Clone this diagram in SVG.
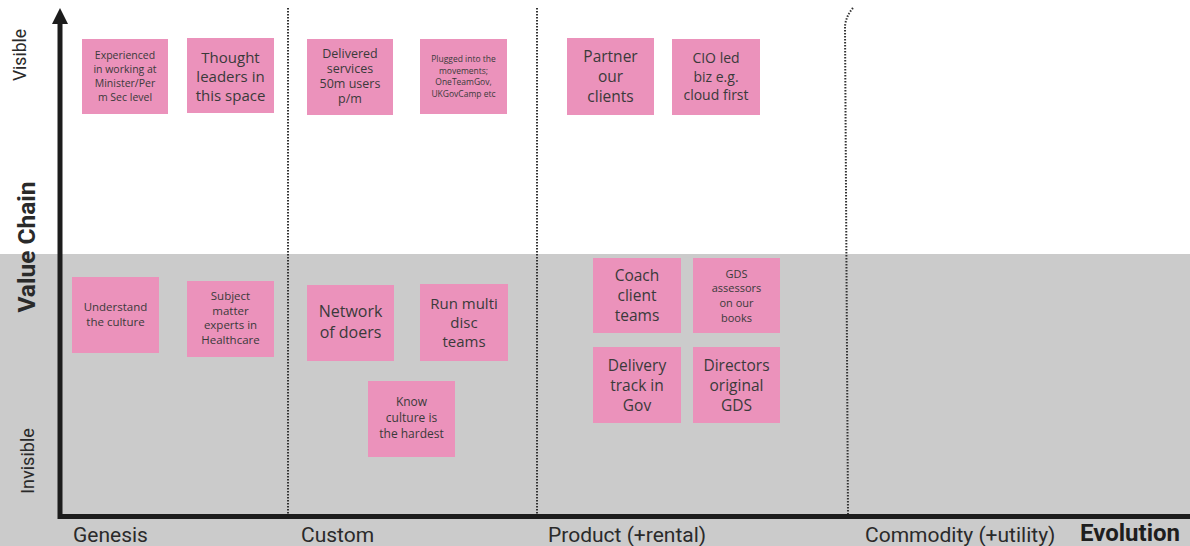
<svg xmlns="http://www.w3.org/2000/svg" width="1190" height="546" viewBox="0 0 1190 546">
  <style>
    .note { fill: #EB92BB; }
    .nt { font-family: "Open Sans", "Noto Sans", sans-serif; fill: #3a3a3a; text-anchor: middle; dominant-baseline: central; }
    .stage { font-family: Roboto, "Liberation Sans", sans-serif; font-size: 21px; fill: #2a2a2a; }
    .title { font-family: Roboto, "Liberation Sans", sans-serif; font-size: 24px; font-weight: bold; fill: #1e1e1e; }
    .side { font-family: Roboto, "Liberation Sans", sans-serif; fill: #2a2a2a; text-anchor: middle; dominant-baseline: central; }
    .divider { fill: none; stroke: #333; stroke-width: 2; stroke-dasharray: 1.5 1.5; }
    .axis { stroke: #1c1c1c; stroke-width: 5; fill: none; }
  </style>

  <!-- background: visible zone (white) and invisible zone (grey) -->
  <rect x="0" y="0" width="1190" height="546" fill="#ffffff"/>
  <rect x="0" y="254" width="1190" height="292" fill="#CBCBCB"/>

  <!-- stage dividers -->
  <g id="dividers">
    <line class="divider" x1="288" y1="8" x2="288" y2="515"/>
    <line class="divider" x1="537" y1="8" x2="537" y2="515"/>
    <path class="divider" d="M853 8 Q846 16 845 26 L848 515"/>
  </g>

  <!-- axes -->
  <g id="axes">
    <polyline class="axis" points="60,20 60,516.5 1190,516.5"/>
    <polygon points="60,8 52,24 68,24" fill="#1c1c1c"/>
  </g>

  <!-- axis labels -->
  <g id="labels">
    <text class="side" font-size="17.5" transform="translate(20,55) rotate(-90)">Visible</text>
    <text class="side" font-size="24.5" font-weight="bold" transform="translate(26,247) rotate(-90)">Value Chain</text>
    <text class="side" font-size="18" transform="translate(27,461) rotate(-90)">Invisible</text>
    <text class="stage" x="73" y="542">Genesis</text>
    <text class="stage" x="301" y="542">Custom</text>
    <text class="stage" x="548" y="542">Product (+rental)</text>
    <text class="stage" x="865" y="542">Commodity (+utility)</text>
    <text class="title" x="1080" y="541">Evolution</text>
  </g>

  <!-- sticky notes -->
  <g id="n1">
    <rect class="note" x="82" y="39" width="86" height="75"/>
    <text class="nt" font-size="10.5"><tspan x="125" y="55">Experienced</tspan><tspan x="125" y="69">in working at</tspan><tspan x="125" y="83">Minister/Per</tspan><tspan x="125" y="97">m Sec level</tspan></text>
  </g>
  <g id="n2">
    <rect class="note" x="187" y="38" width="87" height="75"/>
    <text class="nt" font-size="15"><tspan x="230.5" y="57">Thought</tspan><tspan x="230.5" y="76">leaders in</tspan><tspan x="230.5" y="95">this space</tspan></text>
  </g>
  <g id="n3">
    <rect class="note" x="307" y="39" width="86" height="76"/>
    <text class="nt" font-size="12.5"><tspan x="350" y="53">Delivered</tspan><tspan x="350" y="68">services</tspan><tspan x="350" y="83">50m users</tspan><tspan x="350" y="98">p/m</tspan></text>
  </g>
  <g id="n4">
    <rect class="note" x="420" y="39" width="87" height="75"/>
    <text class="nt" font-size="8.5"><tspan x="463.5" y="58">Plugged into the</tspan><tspan x="463.5" y="70">movements;</tspan><tspan x="463.5" y="81">OneTeamGov,</tspan><tspan x="463.5" y="93">UKGovCamp etc</tspan></text>
  </g>
  <g id="n5">
    <rect class="note" x="567" y="38" width="87" height="77"/>
    <text class="nt" font-size="15.5"><tspan x="610.5" y="56">Partner</tspan><tspan x="610.5" y="76">our</tspan><tspan x="610.5" y="96">clients</tspan></text>
  </g>
  <g id="n6">
    <rect class="note" x="672" y="39" width="88" height="76"/>
    <text class="nt" font-size="14"><tspan x="716" y="57">CIO led</tspan><tspan x="716" y="76">biz e.g.</tspan><tspan x="716" y="94">cloud first</tspan></text>
  </g>
  <g id="n7">
    <rect class="note" x="72" y="277" width="87" height="76"/>
    <text class="nt" font-size="11.5"><tspan x="115.5" y="306">Understand</tspan><tspan x="115.5" y="321">the culture</tspan></text>
  </g>
  <g id="n8">
    <rect class="note" x="187" y="281" width="87" height="76"/>
    <text class="nt" font-size="11.5"><tspan x="230.5" y="295">Subject</tspan><tspan x="230.5" y="310">matter</tspan><tspan x="230.5" y="324">experts in</tspan><tspan x="230.5" y="339">Healthcare</tspan></text>
  </g>
  <g id="n9">
    <rect class="note" x="307" y="285" width="87" height="76"/>
    <text class="nt" font-size="16"><tspan x="350.5" y="311">Network</tspan><tspan x="350.5" y="332">of doers</tspan></text>
  </g>
  <g id="n10">
    <rect class="note" x="420" y="284" width="88" height="77"/>
    <text class="nt" font-size="15"><tspan x="464" y="303">Run multi</tspan><tspan x="464" y="322">disc</tspan><tspan x="464" y="341">teams</tspan></text>
  </g>
  <g id="n11">
    <rect class="note" x="368" y="381" width="87" height="76"/>
    <text class="nt" font-size="12"><tspan x="411.5" y="401">Know</tspan><tspan x="411.5" y="417">culture is</tspan><tspan x="411.5" y="433">the hardest</tspan></text>
  </g>
  <g id="n12">
    <rect class="note" x="593" y="258" width="88" height="75"/>
    <text class="nt" font-size="15.5"><tspan x="637" y="275">Coach</tspan><tspan x="637" y="295">client</tspan><tspan x="637" y="315">teams</tspan></text>
  </g>
  <g id="n13">
    <rect class="note" x="693" y="258" width="87" height="75"/>
    <text class="nt" font-size="11"><tspan x="736.5" y="273">GDS</tspan><tspan x="736.5" y="287">assessors</tspan><tspan x="736.5" y="302">on our</tspan><tspan x="736.5" y="317">books</tspan></text>
  </g>
  <g id="n14">
    <rect class="note" x="593" y="347" width="88" height="76"/>
    <text class="nt" font-size="15.5"><tspan x="637" y="365">Delivery</tspan><tspan x="637" y="385">track in</tspan><tspan x="637" y="405">Gov</tspan></text>
  </g>
  <g id="n15">
    <rect class="note" x="693" y="347" width="87" height="76"/>
    <text class="nt" font-size="15.5"><tspan x="736.5" y="365">Directors</tspan><tspan x="736.5" y="385">original</tspan><tspan x="736.5" y="405">GDS</tspan></text>
  </g>
</svg>
